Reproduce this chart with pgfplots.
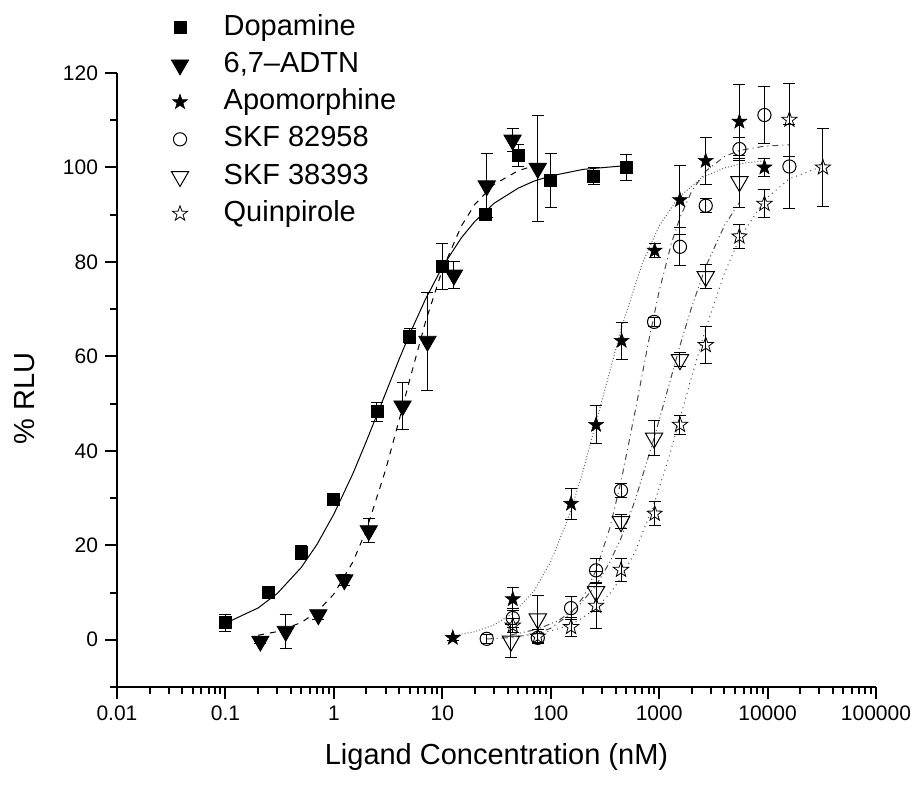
\documentclass[border=0pt]{standalone}
\usepackage{fontspec}
\setmainfont{Liberation Sans}
\usepackage{pgfplots}
\pgfplotsset{compat=1.18}
\pgfdeclareplotmark{fstar}{%
  \pgfpathmoveto{\pgfpointpolar{90}{\pgfplotmarksize}}%
  \pgfpathlineto{\pgfpointpolar{126}{0.4\pgfplotmarksize}}%
  \pgfpathlineto{\pgfpointpolar{162}{\pgfplotmarksize}}%
  \pgfpathlineto{\pgfpointpolar{198}{0.4\pgfplotmarksize}}%
  \pgfpathlineto{\pgfpointpolar{234}{\pgfplotmarksize}}%
  \pgfpathlineto{\pgfpointpolar{270}{0.4\pgfplotmarksize}}%
  \pgfpathlineto{\pgfpointpolar{306}{\pgfplotmarksize}}%
  \pgfpathlineto{\pgfpointpolar{342}{0.4\pgfplotmarksize}}%
  \pgfpathlineto{\pgfpointpolar{18}{\pgfplotmarksize}}%
  \pgfpathlineto{\pgfpointpolar{54}{0.4\pgfplotmarksize}}%
  \pgfpathclose
  \pgfusepathqfillstroke}
\pgfdeclareplotmark{ostar}{%
  \pgfpathmoveto{\pgfpointpolar{90}{\pgfplotmarksize}}%
  \pgfpathlineto{\pgfpointpolar{126}{0.4\pgfplotmarksize}}%
  \pgfpathlineto{\pgfpointpolar{162}{\pgfplotmarksize}}%
  \pgfpathlineto{\pgfpointpolar{198}{0.4\pgfplotmarksize}}%
  \pgfpathlineto{\pgfpointpolar{234}{\pgfplotmarksize}}%
  \pgfpathlineto{\pgfpointpolar{270}{0.4\pgfplotmarksize}}%
  \pgfpathlineto{\pgfpointpolar{306}{\pgfplotmarksize}}%
  \pgfpathlineto{\pgfpointpolar{342}{0.4\pgfplotmarksize}}%
  \pgfpathlineto{\pgfpointpolar{18}{\pgfplotmarksize}}%
  \pgfpathlineto{\pgfpointpolar{54}{0.4\pgfplotmarksize}}%
  \pgfpathclose
  \pgfusepathqstroke}
\begin{document}
\begin{tikzpicture}
\useasboundingbox (-58.5pt,-49pt) rectangle (400.5pt,343.5pt);
\begin{axis}[
  scale only axis, width=379.5pt, height=307pt,
  xmode=log, xmin=0.01, xmax=100000, ymin=-10, ymax=120,
  axis lines=left, axis line style={-, line width=1.4pt},
  xtick={0.01,0.1,1,10,100,1000,10000,100000},
  xticklabels={0.01,0.1,1,10,100,1000,10000,100000},
  minor xtick={0.02,0.03,0.04,0.05,0.06,0.07,0.08,0.09,
    0.2,0.3,0.4,0.5,0.6,0.7,0.8,0.9,
    2,3,4,5,6,7,8,9,
    20,30,40,50,60,70,80,90,
    200,300,400,500,600,700,800,900,
    2000,3000,4000,5000,6000,7000,8000,9000,
    20000,30000,40000,50000,60000,70000,80000,90000},
  ytick={0,20,40,60,80,100,120},
  minor ytick={-10,10,30,50,70,90,110},
  tick align=outside, major tick length=6pt, minor tick length=3.5pt,
  every tick/.style={line width=1pt, black},
  tick label style={font=\fontsize{10.5}{12}\selectfont},
  /pgf/number format/assume math mode=true,
  xlabel={Ligand Concentration (nM)}, ylabel={\% RLU},
  label style={font=\fontsize{14.5}{17}\selectfont},
  x label style={at={(axis description cs:0.5,-0.114)}, anchor=center},
  y label style={at={(axis description cs:-0.1212,0.47)}, anchor=center},
  clip=false,
  legend cell align=left,
  legend style={at={(axis description cs:0.0711,1.098)}, anchor=north west,
    draw=none, fill=none, inner sep=0pt,
    font=\fontsize{14.5}{17}\selectfont, row sep=4.1pt,
    nodes={inner sep=0pt, text height=11pt, text depth=3.5pt},
    /tikz/every odd column/.append style={column sep=17.5pt}},
  error bars/error bar style={line width=0.5pt, black},
  error bars/error mark options={rotate=90, mark size=3pt, line width=0.5pt, black},
]
% ---------- fitted curves ----------
\addplot[forget plot, black, line width=0.5pt] coordinates {
(0.1,3.48)(0.2,6.73)(0.3,9.77)(0.5,15.3)(0.7,20.2)(1,26.6)(1.5,35.2)(2,42.1)(3,52.2)(4,59.4)(5,64.7)(7,72.1)(10,78.9)(15,85.1)(20,88.6)(30,92.4)(50,95.6)(70,97.1)(100,98.2)(200,99.6)(500,100.4)};
\addplot[forget plot, black, line width=0.5pt, dashed] coordinates {
(0.2,0.95)(0.3,1.72)(0.5,3.64)(0.7,5.9)(1,9.67)(1.5,16.5)(2,23.3)(3,35.95)(4,46.5)(5,55.0)(7,67.3)(10,78.3)(15,87.6)(20,92.2)(30,96.4)(50,99.3)(76,100.6)};
\addplot[forget plot, black!60, line width=0.5pt, densely dotted] coordinates {
(12.5,0.86)(20,1.72)(30,3.13)(45,5.6)(70,10.3)(100,16.5)(150,26.6)(200,36.0)(300,51.0)(450,66.1)(700,79.7)(1000,87.6)(1500,93.6)(2500,97.9)(4000,99.9)(6000,100.9)(9360,101.4)};
\addplot[forget plot, black!70, line width=0.5pt, dashdotted] coordinates {
(25.7,0.16)(45,0.5)(76,1.42)(100,2.43)(154,5.58)(200,9.08)(262,14.7)(350,23.6)(445,33.5)(600,48.3)(800,63.2)(1000,73.8)(1300,84.0)(1557,89.4)(2000,95.0)(2690,99.2)(4000,102.3)(5500,103.6)(9360,104.5)(15900,104.8)};
\addplot[forget plot, black!70, line width=0.5pt, dash pattern=on 3pt off 1.5pt on 0.5pt off 1.5pt on 0.5pt off 1.5pt] coordinates {
(43,1.02)(76,2.24)(120,4.17)(180,7.14)(262,11.5)(350,16.4)(445,21.5)(600,29.5)(898,42.7)(1200,53.0)(1557,62.3)(2000,70.5)(2690,79.0)(4000,87.7)(5500,92.6)};
\addplot[forget plot, black!70, line width=0.5pt, dotted] coordinates {
(44.7,0.6)(76,1.25)(120,2.34)(180,4.06)(262,6.68)(350,9.7)(445,13.1)(600,18.6)(910,29.2)(1200,37.8)(1557,46.8)(2000,55.8)(2690,65.9)(4000,77.6)(5500,84.9)(9360,93.1)(15900,97.6)(32400,100.3)};
% ---------- data ----------
\addplot[only marks, mark=square*, mark size=3pt, black,
  error bars/.cd, y dir=both, y explicit]
  table[x=x, y=y, y error=e] {
x y e
0.1 3.6 1.8
0.25 10.0 1.0
0.5 18.4 1.5
1.0 29.8 1.0
2.5 48.3 2.0
5 64.3 1.5
10 79.0 4.8
25 90.0 1.0
50 102.6 2.3
100 97.2 5.7
250 98.1 1.8
500 100.0 2.7
};
\addlegendentry{Dopamine}
\addplot[only marks, mark=triangle*, mark size=5pt, mark options={rotate=180}, black,
  error bars/.cd, y dir=both, y explicit]
  table[x=x, y=y, y error=e] {
x y e
0.21 -0.3 0.5
0.36 1.8 3.6
0.72 5.3 1.0
1.25 12.7 1.2
2.1 23.1 2.5
4.3 49.5 5.0
7.3 63.2 10.4
12.8 77.2 2.8
25.7 96.1 6.8
44.5 105.8 2.5
76 99.8 11.3
};
\addlegendentry{6,7--ADTN}
\addplot[only marks, mark=fstar, mark size=3.9pt, black, mark options={fill=black, line width=0.3pt},
  error bars/.cd, y dir=both, y explicit]
  table[x=x, y=y, y error=e] {
x y e
12.5 0.4 0.5
44.7 8.6 2.5
154 28.8 3.3
262 45.5 4.0
451 63.3 3.9
910 82.4 1.5
1557 93.1 7.4
2690 101.4 5.0
5500 109.7 7.9
9360 100.0 2.0
};
\addlegendentry{Apomorphine}
\addplot[only marks, mark=o, mark size=3.3pt, black, mark options={line width=0.5pt, fill=white},
  error bars/.cd, y dir=both, y explicit]
  table[x=x, y=y, y error=e] {
x y e
25.7 0.2 1.0
44.7 4.6 2.0
76 0.4 1.0
154 6.7 2.5
262 14.7 2.5
445 31.6 1.5
898 67.3 1.0
1557 83.2 4.0
2690 91.9 1.5
5500 103.9 2.5
9360 111.1 6.0
15900 100.2 8.8
};
\addlegendentry{SKF 82958}
\addplot[only marks, mark=triangle, mark size=5pt, black, mark options={rotate=180, line width=0.5pt},
  error bars/.cd, y dir=both, y explicit]
  table[x=x, y=y, y error=e] {
x y e
43 -0.3 3.5
76 4.4 5.0
262 10.2 4.2
445 25.0 1.5
898 42.7 3.7
1557 59.3 1.5
2690 76.9 2.5
5500 97.0 5.5
};
\addlegendentry{SKF 38393}
\addplot[only marks, mark=ostar, mark size=4pt, black, mark options={line width=0.4pt},
  error bars/.cd, y dir=both, y explicit]
  table[x=x, y=y, y error=e] {
x y e
44.7 3.0 1.5
76 0.7 1.5
154 2.7 2.0
262 7.2 4.8
445 14.8 2.5
910 26.7 2.5
1557 45.5 2.0
2690 62.4 4.0
5500 85.4 2.5
9360 92.3 3.0
15900 110.1 7.7
32400 100.0 8.2
};
\addlegendentry{Quinpirole}
\end{axis}
\end{tikzpicture}
\end{document}
